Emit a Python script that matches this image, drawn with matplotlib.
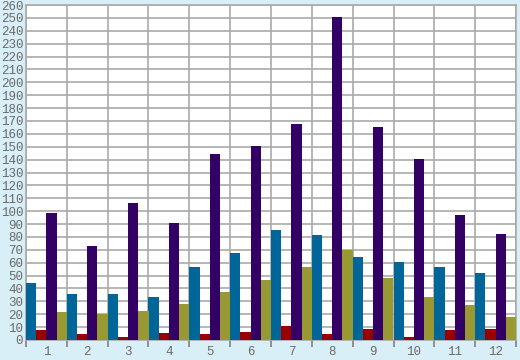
import matplotlib
matplotlib.use('Agg')
import matplotlib.pyplot as plt
import numpy as np

# data
groups = ['1', '2', '3', '4', '5', '6', '7', '8', '9', '10', '11', '12']
blue = [44, 35.5, 35.5, 33, 57, 67.5, 85, 81.5, 64.5, 60.5, 56.5, 52]
red = [8, 5, 2.5, 5.5, 5, 6.5, 11, 5, 8.5, 2.5, 8, 8.5]
purple = [98.5, 73, 106.5, 91, 144.5, 150.5, 167.5, 250.5, 165.5, 140.5, 97, 82]
olive = [21.5, 20, 22.5, 28, 37.5, 46.5, 56.5, 70, 48, 33.5, 27, 18]

series = [blue, red, purple, olive]
colors = ['#006699', '#990000', '#330066', '#999933']

bg = '#d9eff7'
grid_col = '#aaaaaa'
text_col = '#6a6a6a'

fig = plt.figure(figsize=(5.2, 3.6), dpi=100, facecolor=bg)
ax = fig.add_axes([26 / 520, 20 / 360, 490 / 520, 335 / 360])
ax.set_facecolor('white')

x = np.arange(len(groups))
w = 0.25
for i, (vals, c) in enumerate(zip(series, colors)):
    ax.bar(x + (i - 1.5) * w, vals, width=w, color=c, zorder=3, linewidth=0)

ax.set_xlim(-0.5, len(groups) - 0.5)
ax.set_ylim(0, 260)

ax.set_yticks(np.arange(0, 261, 10))
ax.set_xticks(np.arange(-0.5, len(groups), 1))
ax.set_xticklabels([])
ax.set_xticks(x, minor=True)
ax.set_xticklabels(groups, minor=True)

ax.grid(True, which='major', color=grid_col, linewidth=1.2, zorder=0)
ax.tick_params(axis='y', length=0, pad=2, labelsize=9, labelcolor=text_col)
ax.tick_params(axis='x', which='major', length=5, color='#808080', width=1.2)
ax.tick_params(axis='x', which='minor', length=0, pad=4, labelsize=9, labelcolor=text_col)

for lab in ax.get_xticklabels(minor=True) + ax.get_yticklabels():
    lab.set_family('Liberation Mono')

for s in ax.spines.values():
    s.set_color(grid_col)
    s.set_linewidth(1.2)

fig.savefig('out.png', dpi=100, facecolor=bg)
